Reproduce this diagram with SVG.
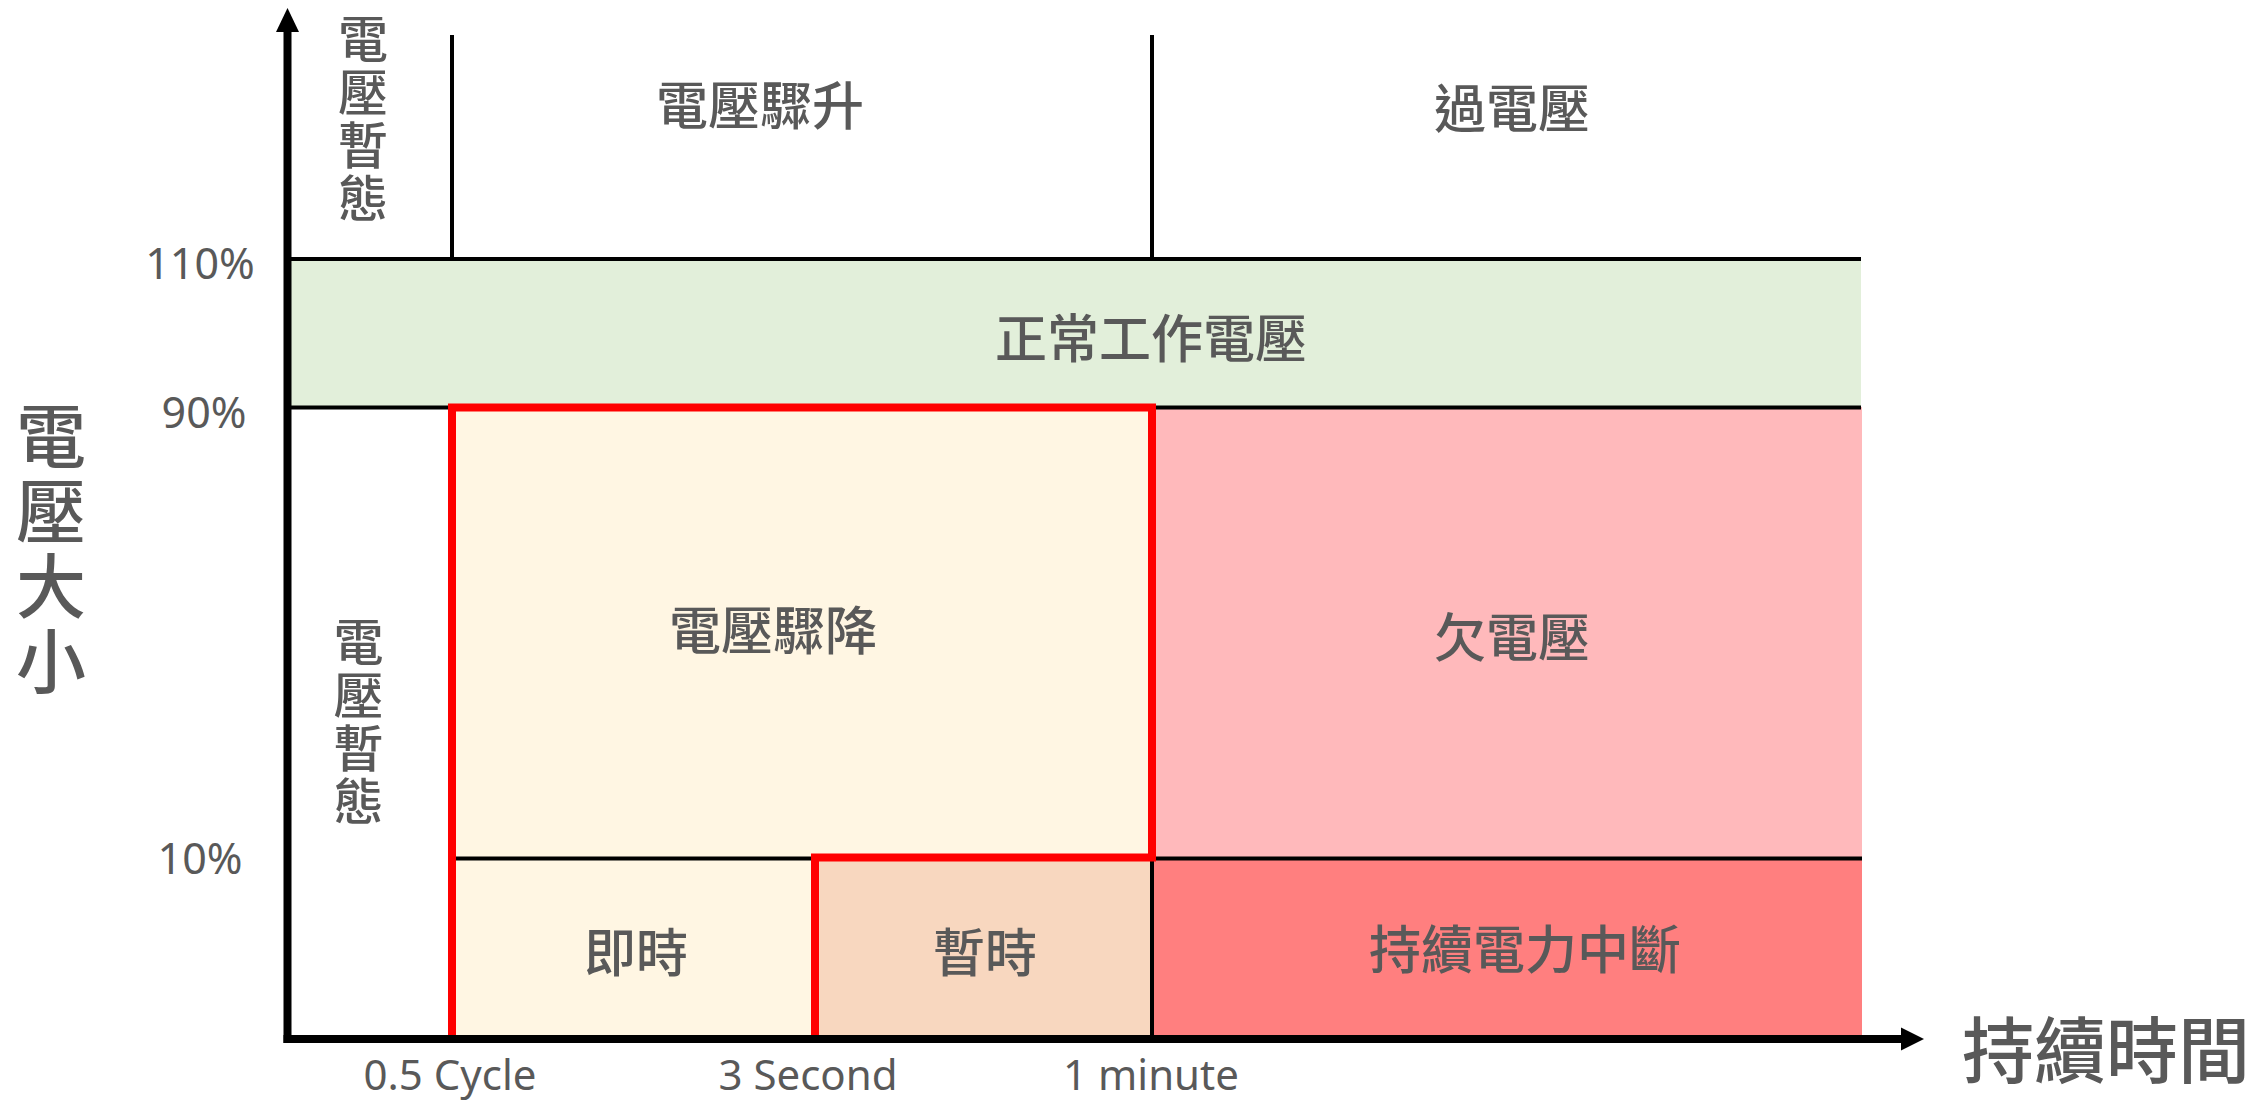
<svg xmlns="http://www.w3.org/2000/svg" width="2262" height="1102" viewBox="0 0 2262 1102">
<style>
.cjk{font-family:"Noto Sans CJK TC","Noto Sans CJK SC",sans-serif;fill:#595959;font-weight:500}
.lat{font-family:"Noto Sans","Open Sans",sans-serif;fill:#595959}
.lbl{font-size:52px;text-anchor:middle}
.vt{font-size:50px;writing-mode:vertical-rl;text-orientation:upright;letter-spacing:3px}
.pct{font-size:43px;text-anchor:middle}
.tick{font-size:42px;text-anchor:middle}
.ln{stroke:#000;stroke-width:4;fill:none}
.ax{stroke:#000;stroke-width:8;fill:none}
</style>
<rect width="2262" height="1102" fill="#fff"/>
<g id="regions">
<rect id="normal" x="288" y="259" width="1573" height="148" fill="#E2EFDA"/>
<rect id="sag" x="452" y="407" width="700" height="451" fill="#FFF6E3"/>
<rect id="instant" x="452" y="858" width="363" height="181" fill="#FFF6E3"/>
<rect id="temporary" x="815" y="858" width="337" height="181" fill="#F8D7BF"/>
<rect id="undervoltage" x="1152" y="407" width="710" height="451" fill="#FFB9BB"/>
<rect id="interruption" x="1152" y="858" width="710" height="181" fill="#FF7F7F"/>
</g>
<g id="connectors">
<line class="ln" x1="288" y1="259" x2="1861" y2="259"/>
<line class="ln" x1="288" y1="407.5" x2="1861" y2="407.5"/>
<line class="ln" x1="452" y1="858.5" x2="1862" y2="858.5"/>
<line class="ln" x1="452" y1="35" x2="452" y2="259"/>
<line class="ln" x1="1152" y1="35" x2="1152" y2="259"/>
<line class="ln" x1="1152" y1="858" x2="1152" y2="1039"/>
<polygon points="452,407.5 1152,407.5 1152,857.5 815,857.5 815,1039 452,1039" fill="none" stroke="#FF0000" stroke-width="8"/>
<line class="ax" x1="287.5" y1="30" x2="287.5" y2="1043"/>
<line class="ax" x1="283.5" y1="1039" x2="1903" y2="1039"/>
<polygon points="287.5,8 299,32 276,32" fill="#000"/>
<polygon points="1924,1039 1901,1027.5 1901,1050.5" fill="#000"/>
</g>
<g id="labels">
<text id="transient-top" class="cjk vt" x="363" y="14">電壓暫態</text>
<text id="transient-bottom" class="cjk vt" x="358.5" y="617">電壓暫態</text>
<text id="y-title" class="cjk" x="51" y="401" font-size="70" style="writing-mode:vertical-rl;text-orientation:upright;letter-spacing:5px">電壓大小</text>
<text id="x-title" class="cjk" x="1962" y="1077" font-size="72">持續時間</text>
<text id="swell" class="cjk lbl" x="760" y="125">電壓驟升</text>
<text id="over" class="cjk lbl" x="1512" y="128">過電壓</text>
<text id="normal-lbl" class="cjk lbl" x="1151" y="358">正常工作電壓</text>
<text id="sag-lbl" class="cjk lbl" x="773" y="650">電壓驟降</text>
<text id="under-lbl" class="cjk lbl" x="1512" y="657">欠電壓</text>
<text id="instant-lbl" class="cjk lbl" x="636" y="972">即時</text>
<text id="temp-lbl" class="cjk lbl" x="985" y="972">暫時</text>
<text id="int-lbl" class="cjk lbl" x="1525" y="969">持續電力中斷</text>
<text class="lat pct" x="200" y="279">110%</text>
<text class="lat pct" x="204" y="428">90%</text>
<text class="lat pct" x="200" y="874">10%</text>
<text class="lat tick" x="450" y="1090">0.5 Cycle</text>
<text class="lat tick" x="808" y="1090">3 Second</text>
<text class="lat tick" x="1151" y="1090">1 minute</text>
</g>
</svg>
